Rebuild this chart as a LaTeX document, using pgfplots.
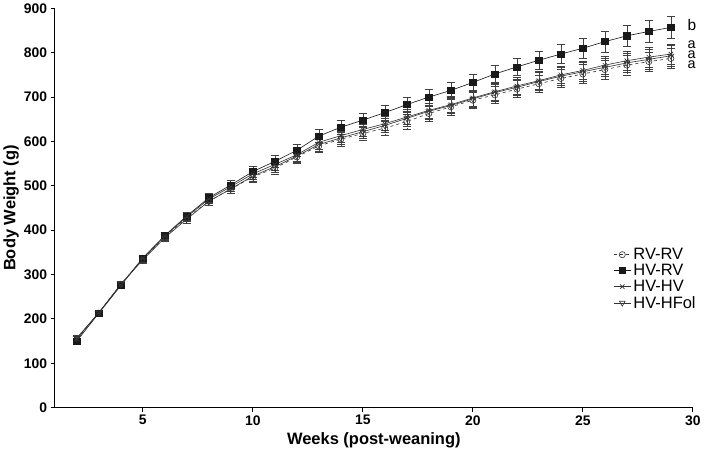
\documentclass[border=0pt]{standalone}
\usepackage{fontspec}
\setmainfont{Liberation Sans}
\usepackage{pgfplots}
\usepackage{pgfplotstable}
\pgfplotsset{compat=1.18}

% week, mean, sem
\pgfplotstableread{
w   rr   rre  hr   hre  hh   hhe  hf   hfe
2   155  5    150  4    155  5    157  5
3   213  4    213  4    214  4    214  4
4   278  6    275  6    277  6    278  6
5   335  7    337  7    337  7    333  7
6   385  8    388  8    387  8    383  8
7   428  9    432  9    430  9    425  9
8   465  10   473  10   470  10   465  10
9   493  11   502  11   498  11   493  11
10  520  12   532  12   527  12   522  12
11  540  13   555  13   548  13   543  13
12  565  14   580  14   570  14   567  14
13  590  15   612  15   598  15   593  15
14  605  15   632  16   613  15   608  15
15  618  16   648  16   627  16   622  16
16  630  16   665  17   640  16   636  16
17  645  17   683  17   655  17   652  17
18  663  17   700  18   670  17   668  17
19  678  18   715  18   683  18   681  18
20  693  18   733  19   698  18   696  18
21  705  19   752  19   712  19   710  19
22  718  19   768  20   725  19   722  19
23  730  20   783  21   737  20   735  20
24  742  20   797  21   750  20   747  20
25  752  21   810  22   760  21   757  21
26  762  21   825  23   772  21   767  21
27  772  22   838  23   782  22   777  22
28  780  22   848  24   790  22   785  22
29  787  23   857  25   797  23   793  23
}\data

\begin{document}
\begin{tikzpicture}
\begin{axis}[
  scale only axis,
  width=620pt, height=388pt,
  xmin=1, xmax=30, ymin=0, ymax=900,
  clip=false,
  axis lines=left,
  axis line style={-, line width=1pt},
  xtick={5,10,15,20,25,30},
  ytick={0,100,...,900},
  tick align=outside,
  tick style={black, line width=0.8pt},
  major tick length=4pt,
  ticklabel style={font=\fontsize{13.5}{13.5}\selectfont\bfseries},
  /pgf/number format/assume math mode=true,
  xlabel={\bfseries Weeks (post-weaning)},
  ylabel={\bfseries Body Weight (g)},
  label style={font=\fontsize{16}{16}\selectfont},
  xlabel style={yshift=0pt},
  ylabel style={yshift=-2pt},
  legend style={draw=none, fill=none, at={(0.87,0.41)}, anchor=north west,
    font=\fontsize{16}{17}\selectfont, row sep=-1pt},
  legend cell align=left,
  every axis plot/.append style={line width=0.6pt},
  error bars/error bar style={line width=0.6pt, black!75},
  error bars/error mark options={rotate=90, mark size=4pt, line width=0.6pt, black!75},
]
\addplot[black!80, dashed, mark=o, mark size=3pt, mark options={solid, fill=white},
  error bars/.cd, y dir=both, y explicit]
  table[x=w, y=rr, y error=rre] {\data};
\addlegendentry{RV-RV}
\addplot[black!90, mark=square*, mark size=3pt, mark options={solid, fill=black!90},
  error bars/.cd, y dir=both, y explicit]
  table[x=w, y=hr, y error=hre] {\data};
\addlegendentry{HV-RV}
\addplot[black!80, mark=x, mark size=3pt,
  error bars/.cd, y dir=both, y explicit]
  table[x=w, y=hh, y error=hhe] {\data};
\addlegendentry{HV-HV}
\addplot[black!80, mark=triangle, mark size=3.2pt, mark options={rotate=180, fill=white},
  error bars/.cd, y dir=both, y explicit]
  table[x=w, y=hf, y error=hfe] {\data};
\addlegendentry{HV-HFol}
\node[anchor=west, inner sep=0pt, font=\fontsize{15}{15}\selectfont] at (axis cs:29.75,862) {b};
\node[anchor=west, inner sep=0pt, align=left, font=\fontsize{14}{9.5}\selectfont] at (axis cs:29.75,795) {a\\a\\a};
\end{axis}
\end{tikzpicture}
\end{document}
